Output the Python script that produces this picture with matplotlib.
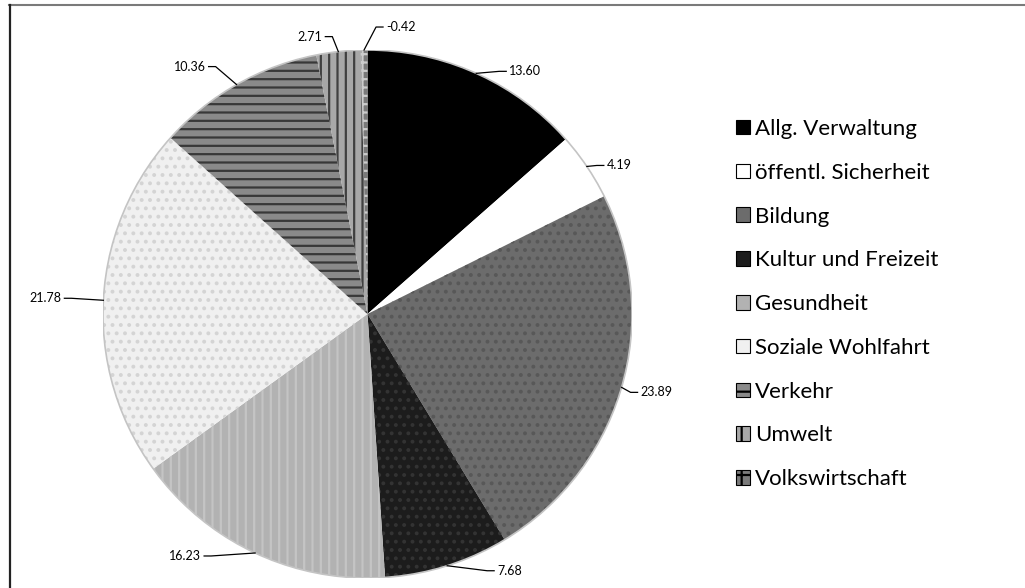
import numpy as np
import matplotlib
matplotlib.use("Agg")
import matplotlib.pyplot as plt
from matplotlib.lines import Line2D
from matplotlib.patches import Patch
from matplotlib.transforms import IdentityTransform

plt.rcParams['font.family'] = ['Lato', 'DejaVu Sans']
plt.rcParams['hatch.linewidth'] = 1.6

categories = ["Allg. Verwaltung", "öffentl. Sicherheit", "Bildung", "Kultur und Freizeit",
              "Gesundheit", "Soziale Wohlfahrt", "Verkehr", "Umwelt", "Volkswirtschaft"]
values = [13.60, 4.19, 23.89, 7.68, 16.23, 21.78, 10.36, 2.71, -0.42]
value_labels = ["13.60", "4.19", "23.89", "7.68", "16.23", "21.78", "10.36", "2.71", "-0.42"]

# styles
face = ["#000000", "#ffffff", "#6c6c6c", "#1c1c1c", "#b2b2b2", "#f0f0f0", "#8a8a8a", "#a8a8a8", "#7a7a7a"]
hatch = [None, None, "..", "..", "||", "..", "--", "||", "++"]
hatch_col = [None, None, "#585858", "#333333", "#c4c4c4", "#d4d4d4", "#383838", "#404040", "#cccccc"]
legend_hatch = [None, None, None, None, None, None, "-", "|", "+"]
# label offsets (pixels, image y down) from arc mid point, alignment
lab_off = [(33, -2, "left"), (20, -1, "left"), (19, 5, "left"), (50, 5, "left"),
           (-54, 3, "right"), (-42, -2, "right"), (-31, -18, "right"),
           (-16, -15, "right"), (22, -23, "left")]

W, H = 1025, 588
fig = plt.figure(figsize=(W / 100, H / 100), dpi=100)
ax = fig.add_axes([103 / W, 10 / H, 529 / W, 528 / H])

sizes = np.abs(values)
wedges, _ = ax.pie(sizes, startangle=90, counterclock=False, colors=face,
                   radius=1, wedgeprops=dict(linewidth=0))
for w, h, hc in zip(wedges, hatch, hatch_col):
    if h:
        w.set_hatch(h)
        w.set_edgecolor(hc)
        w.set_linewidth(0)
ax.set_xlim(-1, 1)
ax.set_ylim(-1, 1)
ax.set_aspect('auto')
ax.axis('off')

# outline ring
circ = plt.Circle((0, 0), 1.0, fill=False, edgecolor="#c4c4c4", linewidth=1.2)
ax.add_patch(circ)

# data labels with leader lines
for w, lab, (dx, dy, ha) in zip(wedges, value_labels, lab_off):
    th = np.deg2rad((w.theta1 + w.theta2) / 2)
    px, py = ax.transData.transform((np.cos(th), np.sin(th)))
    tx, ty = px + dx, py - dy
    sgn = 1 if ha == "left" else -1
    ex = tx - sgn * 3
    elx = ex - sgn * 7
    line = Line2D([px, elx, ex], [py, ty, ty], color="black", linewidth=0.9,
                  transform=IdentityTransform())
    fig.add_artist(line)
    fig.text(tx / W, ty / H, lab, ha=ha, va="center", fontsize=9, color="black")

# legend
with plt.rc_context({'hatch.linewidth': 1.0}):
    handles = [Patch(facecolor=f, edgecolor="black", linewidth=0.8, hatch=h)
               for f, h in zip(face, legend_hatch)]
fig.legend(handles, categories, loc="upper left", bbox_to_anchor=(736 / W, 1 - 119 / H),
           frameon=False, fontsize=16, handlelength=0.63, handleheight=0.63,
           handletextpad=0.22, labelspacing=1.07, borderpad=0, borderaxespad=0)

# frame (top & left visible)
fig.add_artist(Line2D([9 / W, 1], [1 - 5 / H, 1 - 5 / H], color="#7a7a7a", linewidth=1.5,
                      transform=fig.transFigure))
fig.add_artist(Line2D([9.5 / W, 9.5 / W], [0, 1 - 5 / H], color="#222222", linewidth=1.6,
                      transform=fig.transFigure))

fig.savefig("out.png", dpi=100)
